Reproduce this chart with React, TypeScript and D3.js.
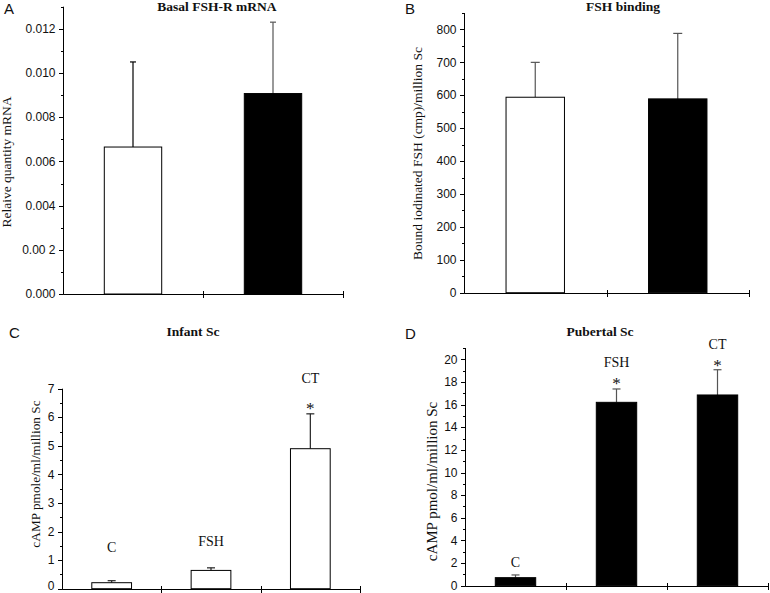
import React from 'react';
import * as d3 from 'd3';

// ---------- data ----------
const abGroups = ['Control', 'Treated'];
const basalMean = [0.00665, 0.00907];
const basalErr = [0.00385, 0.00323];
const basalTickValues = [0, 0.002, 0.004, 0.006, 0.008, 0.01, 0.012];
const basalTickLabels = ['0.000', '0.00 2', '0.004', '0.006', '0.008', '0.010', '0.012'];

const bindingMean = [594, 589];
const bindingErr = [106, 199];
const bindingTickValues = [0, 100, 200, 300, 400, 500, 600, 700, 800];

const campGroups = ['C', 'FSH', 'CT'];
const infantMean = [0.21, 0.64, 4.9];
const infantErr = [0.07, 0.09, 1.22];
const infantLabelAt = [1.28, 1.49, 7.2];
const infantStarAt: (number | null)[] = [null, null, 6.1];
const infantTickValues = [0, 1, 2, 3, 4, 5, 6, 7];

const pubertalMean = [0.71, 16.2, 16.85];
const pubertalErr = [0.24, 1.18, 2.23];
const pubertalLabelAt = [1.68, 19.35, 20.9];
const pubertalStarAt: (number | null)[] = [null, 17.4, 19.0];
const pubertalTickValues = [0, 2, 4, 6, 8, 10, 12, 14, 16, 18, 20];

const SANS = '"Liberation Sans", Arial, sans-serif';
const SERIF = '"Liberation Serif", "Times New Roman", serif';

type PanelProps = {
  groups: string[];
  means: number[];
  errs: number[];
  x0: number; x1: number; yBase: number; yTop: number; domainMax: number;
  tickValues: number[]; tickLabels?: string[]; minorStep: number;
  fills: string[]; errColors: string[]; capW: number; barFrac: number;
  title: string; titleX: number; titleY: number;
  letter: string; letterX: number; letterY: number;
  ylabel: string; ylabelX: number; ylabelY: number; ylabelSize: number;
  labelAt?: number[]; starAt?: (number | null)[];
};

function Panel(p: PanelProps) {
  const y = d3.scaleLinear().domain([0, p.domainMax]).range([p.yBase, p.yTop]);
  const frac = 1 - p.barFrac;
  const x = d3.scaleBand<string>().domain(p.groups).range([p.x0, p.x1])
    .paddingInner(frac).paddingOuter(frac / 2);
  const step = x.step();
  const bw = x.bandwidth();
  const minor = d3.range(0, p.domainMax + 1e-9, p.minorStep);
  const ax = p.x0 + 0.5;
  const ab = Math.round(p.yBase) + 0.5;
  return (
    <g>
      {/* bars */}
      {p.groups.map((g, i) => {
        const cx = (x(g) as number) + bw / 2;
        const top = y(p.means[i]);
        const et = y(p.means[i] + p.errs[i]);
        return (
          <g key={g}>
            <line x1={cx} x2={cx} y1={top} y2={et} stroke={p.errColors[i]} strokeWidth={1.2} />
            <line x1={cx - p.capW / 2} x2={cx + p.capW / 2} y1={et} y2={et} stroke={p.errColors[i]} strokeWidth={1.2} />
            <rect x={x(g)} y={top} width={bw} height={p.yBase - top} fill={p.fills[i]} stroke="#000" strokeWidth={1} />
          </g>
        );
      })}
      {/* y axis */}
      <line x1={ax} x2={ax} y1={y(p.domainMax)} y2={ab} stroke="#000" strokeWidth={1} />
      {minor.map((v) => (
        <line key={'m' + v} x1={ax - 2.5} x2={ax} y1={Math.round(y(v)) + 0.5} y2={Math.round(y(v)) + 0.5} stroke="#000" />
      ))}
      {p.tickValues.map((v, i) => (
        <g key={'t' + v}>
          <line x1={ax - 4.5} x2={ax} y1={Math.round(y(v)) + 0.5} y2={Math.round(y(v)) + 0.5} stroke="#000" />
          <text x={ax - 8} y={Math.min(y(v) + 4.2, 589.5)} textAnchor="end" fontFamily={SANS} fontSize={12} fill="#111">
            {p.tickLabels ? p.tickLabels[i] : String(v)}
          </text>
        </g>
      ))}
      {/* x axis */}
      <line x1={ax} x2={p.x1 + 0.5} y1={ab} y2={ab} stroke="#000" strokeWidth={1} />
      {p.groups.map((g, i) => {
        const tx = Math.round(p.x0 + step * (i + 1)) + 0.5;
        return <line key={'x' + g} x1={tx} x2={tx} y1={ab - 3.5} y2={ab + 3.5} stroke="#000" />;
      })}
      {/* category labels */}
      {p.labelAt && p.groups.map((g, i) => (
        <text key={'l' + g} x={(x(g) as number) + bw / 2} y={y(p.labelAt![i])} textAnchor="middle" fontFamily={SERIF} fontSize={14} fill="#111">{g}</text>
      ))}
      {p.starAt && p.groups.map((g, i) => p.starAt![i] == null ? null : (
        <text key={'s' + g} x={(x(g) as number) + bw / 2} y={y(p.starAt![i] as number)} textAnchor="middle" fontFamily={SERIF} fontSize={17} fill="#111">*</text>
      ))}
      {/* title */}
      <text x={p.titleX} y={p.titleY} textAnchor="middle" fontFamily={SERIF} fontWeight="bold" fontSize={13.5} fill="#111">{p.title}</text>
      {/* letter */}
      <text x={p.letterX} y={p.letterY} fontFamily={SANS} fontSize={15} fill="#111">{p.letter}</text>
      {/* y label */}
      <text transform={`translate(${p.ylabelX},${p.ylabelY}) rotate(-90)`} textAnchor="middle" fontFamily={SERIF} fontSize={p.ylabelSize} fill="#111">{p.ylabel}</text>
    </g>
  );
}

export default function App() {
  return (
    <svg width={770} height={593} style={{ position: 'absolute', left: 0, top: 0, background: '#fff' }}>
      <rect width={770} height={593} fill="#fff" />
      <Panel groups={abGroups} means={basalMean} errs={basalErr}
        x0={63} x1={343} yBase={294} yTop={6.7} domainMax={0.013}
        tickValues={basalTickValues} tickLabels={basalTickLabels} minorStep={0.001}
        fills={['#fff', '#000']} errColors={['#000', '#555']} capW={6} barFrac={0.41}
        title="Basal FSH-R mRNA" titleX={217} titleY={11}
        letter="A" letterX={4} letterY={14}
        ylabel="Relaive quantity mRNA" ylabelX={11} ylabelY={162} ylabelSize={13.5} />
      <Panel groups={abGroups} means={bindingMean} errs={bindingErr}
        x0={464} x1={749} yBase={292.7} yTop={13} domainMax={850}
        tickValues={bindingTickValues} minorStep={50}
        fills={['#fff', '#000']} errColors={['#555', '#555']} capW={9} barFrac={0.41}
        title="FSH binding" titleX={623} titleY={10.5}
        letter="B" letterX={405} letterY={14}
        ylabel="Bound iodinated FSH (cmp)/million Sc" ylabelX={422} ylabelY={153.5} ylabelSize={13.5} />
      <Panel groups={campGroups} means={infantMean} errs={infantErr}
        x0={62} x1={360} yBase={588.7} yTop={388.7} domainMax={7}
        tickValues={infantTickValues} minorStep={0.5}
        fills={['#fff', '#fff', '#fff']} errColors={['#222', '#222', '#222']} capW={8} barFrac={0.4}
        labelAt={infantLabelAt} starAt={infantStarAt}
        title="Infant Sc" titleX={193} titleY={336}
        letter="C" letterX={9} letterY={338}
        ylabel="cAMP pmole/ml/million Sc" ylabelX={40} ylabelY={474} ylabelSize={13.3} />
      <Panel groups={campGroups} means={pubertalMean} errs={pubertalErr}
        x0={465} x1={768} yBase={585.7} yTop={348} domainMax={21}
        tickValues={pubertalTickValues} minorStep={1}
        fills={['#000', '#000', '#000']} errColors={['#555', '#555', '#555']} capW={8} barFrac={0.4}
        labelAt={pubertalLabelAt} starAt={pubertalStarAt}
        title="Pubertal Sc" titleX={600} titleY={335.5}
        letter="D" letterX={405} letterY={339}
        ylabel="cAMP pmol/ml/million Sc" ylabelX={437} ylabelY={481.5} ylabelSize={15} />
    </svg>
  );
}
